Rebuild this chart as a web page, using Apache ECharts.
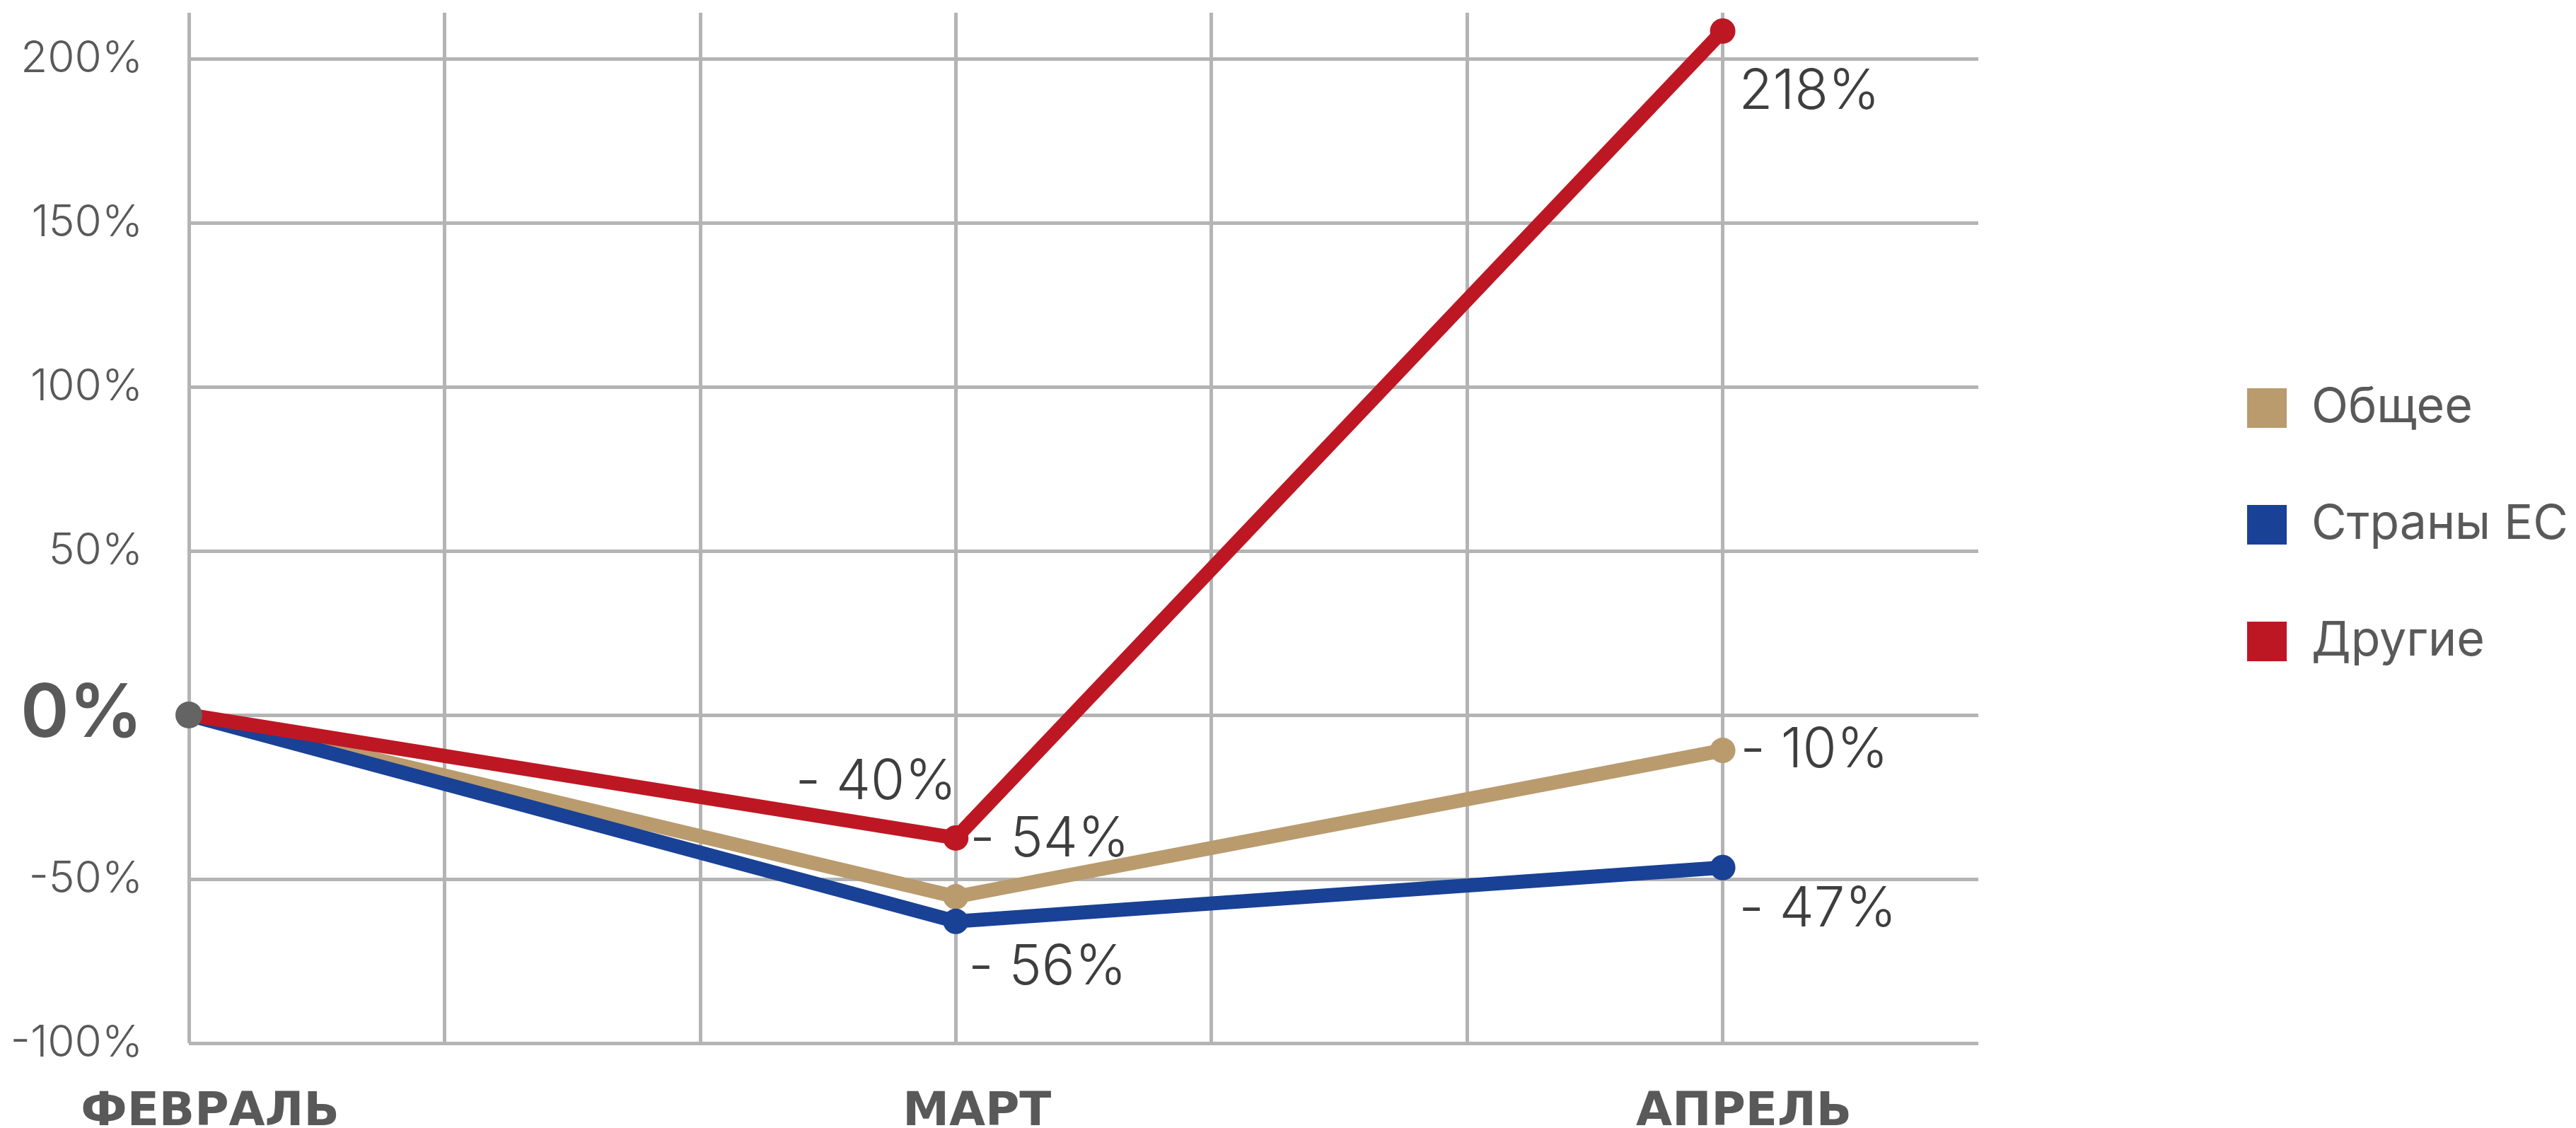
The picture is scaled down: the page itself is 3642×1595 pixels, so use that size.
<!DOCTYPE html>
<html><head><meta charset="utf-8">
<script src="https://cdn.jsdelivr.net/npm/echarts@6/dist/echarts.min.js"></script>
<style>html,body{margin:0;padding:0;background:#fff}#c{width:3642px;height:1595px}</style>
</head><body><div id="c"></div>
<script>
// ---- data ----
const categories = ['ФЕВРАЛЬ', 'МАРТ', 'АПРЕЛЬ'];
const seriesNames = ['Общее', 'Страны ЕС', 'Другие'];
const totalValues = [0, -55.4, -10.8];
const euValues = [0, -62.9, -46.5];
const otherValues = [0, -37.5, 208.4];
const totalLabels = ['', '- 54%', '- 10%'];
const euLabels = ['', '- 56%', '- 47%'];
const otherLabels = ['', '- 40%', '218%'];
const yTickValues = [-100, -50, 0, 50, 100, 150, 200];
const baseValue = 0;

// ---- layout / style ----
const colStep = 3;      // grid columns per month
const colCount = 7;
const colors = ['#b99b6e', '#194196', '#be1724'];
const grid = '#b4b4b4';
const axisText = '#595959';
const valText = '#3e3e3e';
const labelFont = { fontFamily: 'Inter, "Noto Sans", sans-serif', fontWeight: 300, fontSize: 78, color: valText };

const labelPos = [
  [null, { position: 'right', offset: [-3, -81] }, { position: 'right', offset: [2, 0] }],
  [null, { position: 'right', offset: [-5, 66] }, { position: 'right', offset: [0, 60] }],
  [null, { position: 'left', offset: [24, -78] }, { position: 'right', offset: [0, 87] }]
];
const valueSets = [totalValues, euValues, otherValues];
const labelSets = [totalLabels, euLabels, otherLabels];

const series = valueSets.map((vals, s) => ({
  name: seriesNames[s],
  type: 'line',
  z: 2 + s,
  color: colors[s],
  symbol: 'circle',
  symbolSize: 36,
  lineStyle: { width: 20, color: colors[s], opacity: 1 },
  itemStyle: { color: colors[s], opacity: 1 },
  emphasis: { disabled: true },
  data: vals.map((v, i) => ({
    value: [i * colStep, v],
    label: labelSets[s][i] ? Object.assign({ show: true, formatter: labelSets[s][i] }, labelFont, labelPos[s][i]) : { show: false }
  }))
}));
series.push({
  name: 'base', type: 'scatter', z: 10, symbol: 'circle', symbolSize: 38,
  itemStyle: { color: '#646464', opacity: 1 }, emphasis: { disabled: true },
  data: [[0, baseValue]]
});

const chart = echarts.init(document.getElementById('c'), null, { renderer: 'canvas' });
chart.setOption({
  animation: false,
  backgroundColor: '#fff',
  grid: { left: 267, right: 845, top: 18, bottom: 120, containLabel: false, outerBoundsMode: 'none' },
  legend: {
    data: seriesNames,
    orient: 'vertical',
    left: 3172, top: 538,
    icon: 'rect', itemWidth: 56, itemHeight: 56, itemGap: 97,
    selectedMode: false,
    textStyle: { fontFamily: 'Inter, "Noto Sans", sans-serif', fontSize: 68, color: axisText, lineHeight: 60, padding: [0, 0, 0, 30] }
  },
  xAxis: {
    type: 'value', min: 0, max: colCount, interval: 1,
    axisLine: { show: false }, axisTick: { show: false },
    splitLine: { show: true, showMaxLine: false, lineStyle: { color: grid, width: 5 } },
    axisLabel: {
      margin: 66, padding: [0, 0, 0, 60],
      fontFamily: '"DejaVu Sans", sans-serif', fontWeight: 'bold', fontSize: 66, color: axisText,
      formatter: v => (v % colStep === 0 && categories[v / colStep]) ? categories[v / colStep] : ''
    }
  },
  yAxis: {
    type: 'value', min: yTickValues[0], max: 214, interval: 50,
    axisLine: { show: false }, axisTick: { show: false },
    splitLine: { show: true, showMaxLine: false, lineStyle: { color: grid, width: 5 } },
    axisLabel: {
      margin: 65,
      fontFamily: 'Inter, "Noto Sans", sans-serif', fontWeight: 300, fontSize: 62, color: axisText,
      formatter: v => yTickValues.indexOf(v) < 0 ? '' : (v === 0 ? '{b|0%}' : v + '%'),
      rich: { b: { fontFamily: 'Inter, "Noto Sans", sans-serif', fontWeight: 600, fontSize: 104, color: axisText } }
    }
  },
  series: series
});
</script></body></html>
